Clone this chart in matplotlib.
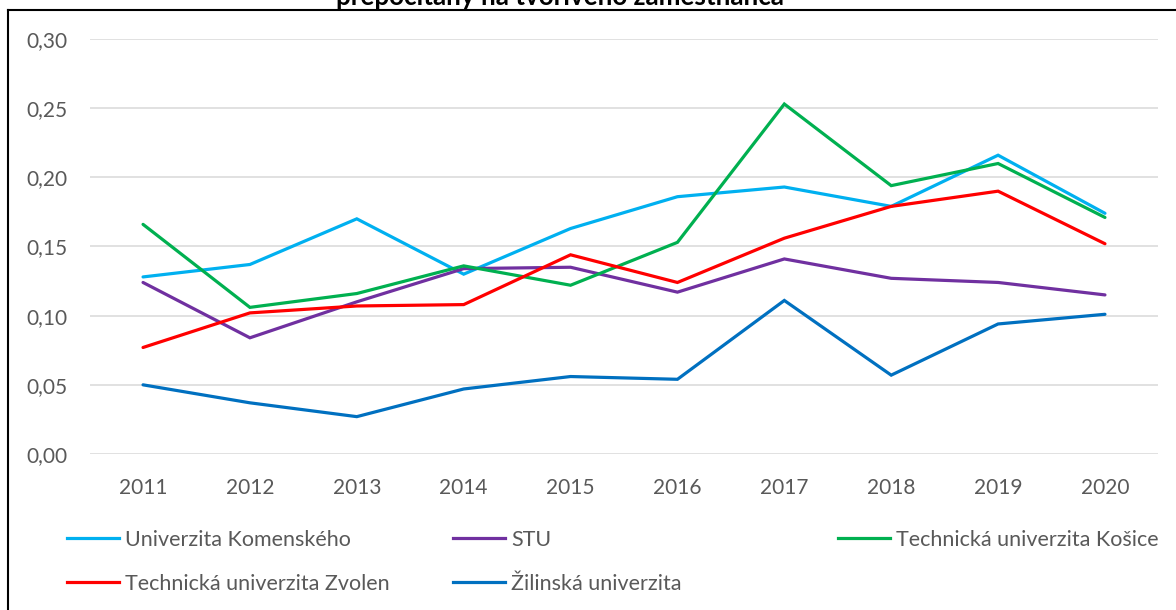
import matplotlib
matplotlib.use("Agg")
import matplotlib.pyplot as plt
from matplotlib.lines import Line2D

plt.rcParams['font.family'] = ['Lato', 'DejaVu Sans']

years = ["2011", "2012", "2013", "2014", "2015", "2016", "2017", "2018", "2019", "2020"]
uk = [0.128, 0.137, 0.170, 0.130, 0.163, 0.186, 0.193, 0.179, 0.216, 0.174]
stu = [0.124, 0.084, 0.110, 0.134, 0.135, 0.117, 0.141, 0.127, 0.124, 0.115]
tuke = [0.166, 0.106, 0.116, 0.136, 0.122, 0.153, 0.253, 0.194, 0.210, 0.171]
tuzvo = [0.077, 0.102, 0.107, 0.108, 0.144, 0.124, 0.156, 0.179, 0.190, 0.152]
uniza = [0.050, 0.037, 0.027, 0.047, 0.056, 0.054, 0.111, 0.057, 0.094, 0.101]

series = [
    ("Univerzita Komenského", uk, "#00B0F0"),
    ("STU", stu, "#7030A0"),
    ("Technická univerzita Košice", tuke, "#00B050"),
    ("Technická univerzita Zvolen", tuzvo, "#FF0000"),
    ("Žilinská univerzita", uniza, "#0070C0"),
]
title = "prepočítaný na tvorivého zamestnanca"
yticks = [0.0, 0.05, 0.10, 0.15, 0.20, 0.25, 0.30]

W, H = 1176, 610
fig = plt.figure(figsize=(W / 100, H / 100), dpi=100)
ax = fig.add_axes([89.6 / W, 1 - 454 / H, (1158.4 - 89.6) / W, (454 - 39) / H])

x = list(range(len(years)))
for name, vals, col in series:
    ax.plot(x, vals, color=col, lw=2.3, label=name, solid_capstyle='round', solid_joinstyle='miter', zorder=3)

ax.set_xlim(-0.5, len(years) - 0.5)
ax.set_ylim(0, 0.30)
ax.set_yticks(yticks)
ax.set_yticklabels([f"{v:.2f}".replace(".", ",") for v in yticks])
ax.set_xticks(x)
ax.set_xticklabels(years)
ax.grid(axis='y', color='#D9D9D9', lw=1.1)
ax.set_axisbelow(True)
for s in ax.spines.values():
    s.set_visible(False)
ax.tick_params(axis='y', length=0, pad=16, labelsize=15, labelcolor='#595959')
ax.tick_params(axis='x', length=0, pad=17, labelsize=15, labelcolor='#595959')

# legend in three equal columns
cols = [[0, 3], [1, 4], [2]]
col_x = [67, 453, 838]
for cx, idxs in zip(col_x, cols):
    handles = [Line2D([], [], color=series[i][2], lw=2.3) for i in idxs]
    labels = [series[i][0] for i in idxs]
    fig.legend(handles, labels, loc='upper left', bbox_to_anchor=(cx / W, 1 - 530 / H),
               frameon=False, fontsize=15.5, labelcolor='#595959', handlelength=2.4,
               handletextpad=0.3, borderpad=0, borderaxespad=0, labelspacing=1.1)

# frame
fig.add_artist(Line2D([8 / W, 8 / W], [0, 1 - 10 / H], color='black', lw=1.5, transform=fig.transFigure))
fig.add_artist(Line2D([8 / W, 1], [1 - 10 / H, 1 - 10 / H], color='black', lw=1.5, transform=fig.transFigure))

fig.text(560 / W, 1 - 5.0 / H, title, ha='center', va='baseline', fontsize=18.7,
         fontweight='bold', color='black')

fig.savefig("out.png", dpi=100)
